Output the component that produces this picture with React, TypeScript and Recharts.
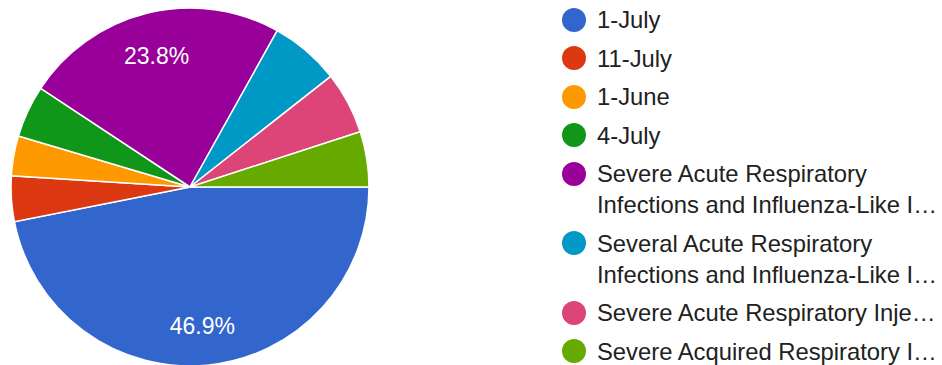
import React from "react";
import { PieChart, Pie, Cell, Legend } from "recharts";

const categories = [
  "1-July",
  "11-July",
  "1-June",
  "4-July",
  "Severe Acute Respiratory\nInfections and Influenza-Like I…",
  "Several Acute Respiratory\nInfections and Influenza-Like I…",
  "Severe Acute Respiratory Inje…",
  "Severe Acquired Respiratory I…",
];

const percents = [46.9, 4.1, 3.6, 4.7, 23.8, 6.3, 5.6, 5.0];

const colors = [
  "#3366cc",
  "#dc3912",
  "#ff9900",
  "#109618",
  "#990099",
  "#0099c6",
  "#dd4477",
  "#66aa00",
];

const data = categories.map((name, i) => ({ name, value: percents[i] }));

const RAD = Math.PI / 180;
const FONT = "Arial, 'Liberation Sans', sans-serif";

const renderLabel = (props: any) => {
  const { cx, cy, midAngle, outerRadius, percent } = props;
  if (percent < 0.1) return null;
  const r = outerRadius * 0.765;
  const x = cx + r * Math.cos(-midAngle * RAD);
  const y = cy + r * Math.sin(-midAngle * RAD);
  return (
    <text
      x={x - 1}
      y={y + 2.5}
      fill="#ffffff"
      textAnchor="middle"
      dominantBaseline="central"
      fontFamily={FONT}
      fontSize={23}
    >
      {(percent * 100).toFixed(1) + "%"}
    </text>
  );
};

const renderLegend = () => (
  <div style={{ fontFamily: FONT }}>
    {categories.map((name, i) => (
      <div
        key={name}
        style={{
          display: "flex",
          alignItems: "flex-start",
          marginBottom: 7.5,
        }}
      >
        <div
          style={{
            width: 24,
            height: 24,
            borderRadius: 12,
            background: colors[i],
            marginTop: 3.5,
            marginRight: 11,
            flex: "none",
          }}
        />
        <div
          style={{
            fontSize: 23.8,
            lineHeight: "31px",
            color: "#212121",
            whiteSpace: "pre",
          }}
        >
          {name}
        </div>
      </div>
    ))}
  </div>
);

export default function App() {
  return (
    <div style={{ position: "absolute", left: 0, top: 0, width: 942, height: 365, background: "#fff" }}>
      <PieChart width={942} height={365} margin={{ top: 0, right: 0, bottom: 0, left: 0 }}>
        <Pie
          data={data}
          dataKey="value"
          nameKey="name"
          cx={190}
          cy={187}
          outerRadius={179}
          startAngle={0}
          endAngle={-360}
          stroke="#ffffff"
          strokeWidth={1.5}
          label={renderLabel}
          labelLine={false}
          isAnimationActive={false}
        >
          {data.map((d, i) => (
            <Cell key={d.name} fill={colors[i]} />
          ))}
        </Pie>
        <Legend
          content={renderLegend}
          wrapperStyle={{ position: "absolute", left: 562, top: 4, width: 380 }}
        />
      </PieChart>
    </div>
  );
}
